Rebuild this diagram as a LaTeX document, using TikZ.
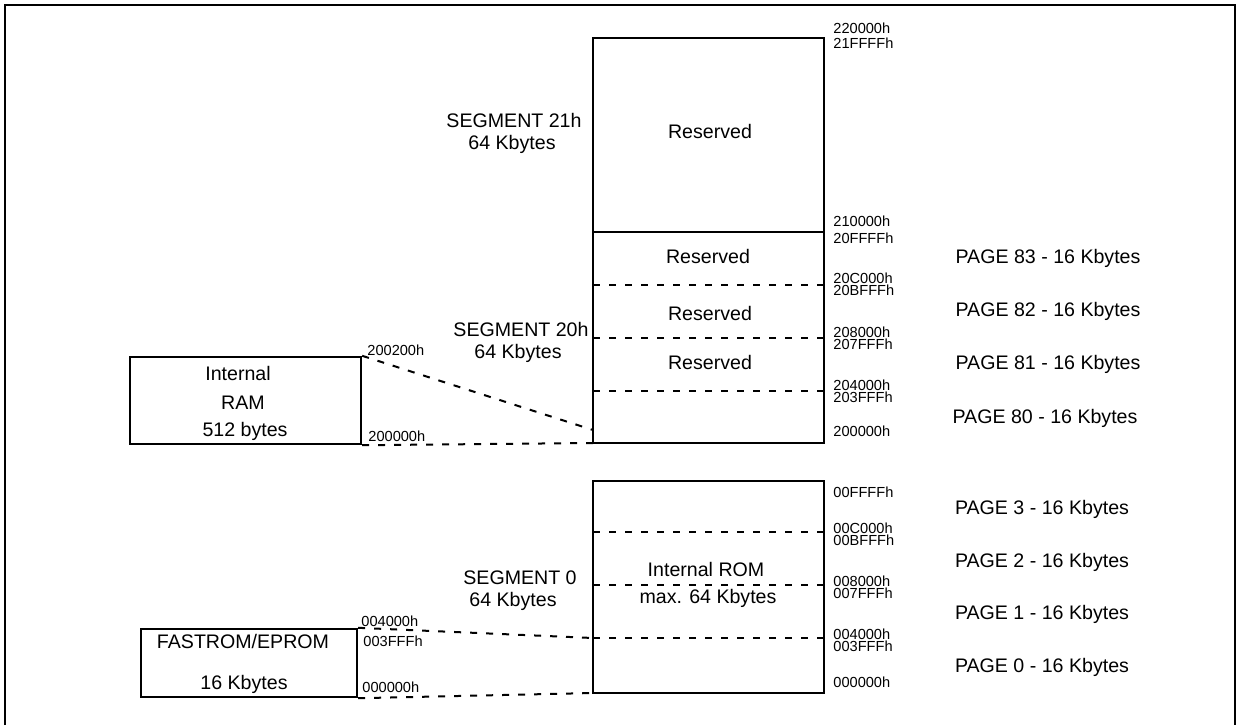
\documentclass[tikz,border=0pt]{standalone}
\usepackage{fontspec}
\setmainfont{Liberation Sans}
\begin{document}
\begin{tikzpicture}[x=0.5pt,y=-0.5pt,
  lbl/.style={font=\fontsize{9.8}{11}\selectfont, inner sep=0, anchor=base},
  adr/.style={font=\fontsize{7.3}{8}\selectfont, inner sep=0, anchor=base west},
  membox/.style={draw, line width=1.2pt, inner sep=0},
  wall/.style={line width=1.2pt},
  gap/.style={line width=1pt, dash pattern=on 3.5pt off 4.5pt}]
\useasboundingbox (0,0) rectangle (1242,725);
\draw[line width=1.4pt] (5,725) -- (5,5) -- (1235,5) -- (1235,725);

\coordinate (hinw) at (593,38);
\coordinate (hise) at (824,443);
\coordinate (hisw) at (593,443);
\coordinate (hiram) at (593,430);
\draw[wall] (hinw) rectangle (hise);
\draw[wall] (593,232) -- (824,232);
\foreach \y in {285,338,391} \draw[gap] (593,\y) -- (824,\y);

\coordinate (lonw) at (593,481);
\coordinate (lose) at (824,693);
\coordinate (losw) at (593,693);
\coordinate (loflash) at (593,638);
\draw[wall] (lonw) rectangle (lose);
\foreach \y in {532,585,638} \draw[gap] (593,\y) -- (824,\y);

\node[membox, minimum width=115.5pt, minimum height=43.5pt] (ram) at (245.5,400.5){};
\node[lbl] (ram1) at (238,380){Internal};
\node[lbl] (ram2) at (243,409){RAM};
\node[lbl] (ram3) at (245,436){512 bytes};
\draw[gap](ram.north east) -- (hiram);
\draw[gap](ram.south east) -- (hisw);

\node[membox, minimum width=108pt, minimum height=34pt] (fast) at (249,663){};
\node[lbl] (fast1) at (243,648){FASTROM/EPROM};
\node[lbl] (fast2) at (244,689){16 Kbytes};
\draw[gap](fast.north east) -- (loflash);
\draw[gap](fast.south east) -- (losw);

\node[lbl] (seg21a) at (514,127){SEGMENT 21h};
\node[lbl] (seg21b) at (512,149){64 Kbytes};
\node[lbl] (seg20a) at (521,336){SEGMENT 20h};
\node[lbl] (seg20b) at (518,358){64 Kbytes};
\node[lbl] (seg0a) at (520,584){SEGMENT 0};
\node[lbl] (seg0b) at (513,606){64 Kbytes};

\node[lbl] (res0) at (710,138){Reserved};
\node[lbl] (res83) at (708,263){Reserved};
\node[lbl] (res82) at (710,320){Reserved};
\node[lbl] (res81) at (710,369){Reserved};
\node[lbl] (irom1) at (706,576){Internal ROM};
\node[lbl] (irom2) at (708,603){max. 64 Kbytes};

\node[lbl] (pg83) at (1048,263){PAGE 83 - 16 Kbytes};
\node[lbl] (pg82) at (1048,316){PAGE 82 - 16 Kbytes};
\node[lbl] (pg81) at (1048,369){PAGE 81 - 16 Kbytes};
\node[lbl] (pg80) at (1045,423){PAGE 80 - 16 Kbytes};
\node[lbl] (pg3) at (1042,514){PAGE 3 - 16 Kbytes};
\node[lbl] (pg2) at (1042,567){PAGE 2 - 16 Kbytes};
\node[lbl] (pg1) at (1042,619){PAGE 1 - 16 Kbytes};
\node[lbl] (pg0) at (1042,672){PAGE 0 - 16 Kbytes};

\node[adr] (a220000) at (833,33){220000h};
\node[adr] (a21ffff) at (833,48){21FFFFh};
\node[adr] (a210000) at (833,226){210000h};
\node[adr] (a20ffff) at (833,243){20FFFFh};
\node[adr] (a20c000) at (833,283){20C000h};
\node[adr] (a20bfff) at (833,295){20BFFFh};
\node[adr] (a208000) at (833,337){208000h};
\node[adr] (a207fff) at (833,349){207FFFh};
\node[adr] (a204000) at (833,390){204000h};
\node[adr] (a203fff) at (833,402){203FFFh};
\node[adr] (a200000) at (833,436){200000h};
\node[adr] (a00ffff) at (833,497){00FFFFh};
\node[adr] (a00c000) at (833,533){00C000h};
\node[adr] (a00bfff) at (833,545){00BFFFh};
\node[adr] (a008000) at (833,586){008000h};
\node[adr] (a007fff) at (833,598){007FFFh};
\node[adr] (a004000) at (833,639){004000h};
\node[adr] (a003fff) at (833,651){003FFFh};
\node[adr] (a000000) at (833,687){000000h};

\node[adr] (l200200) at (367,355){200200h};
\node[adr] (l200000) at (368,441){200000h};
\node[adr] (l004000) at (361,626){004000h};
\node[adr] (l003fff) at (363,646){003FFFh};
\node[adr] (l000000) at (362,692){000000h};

\end{tikzpicture}
\end{document}
